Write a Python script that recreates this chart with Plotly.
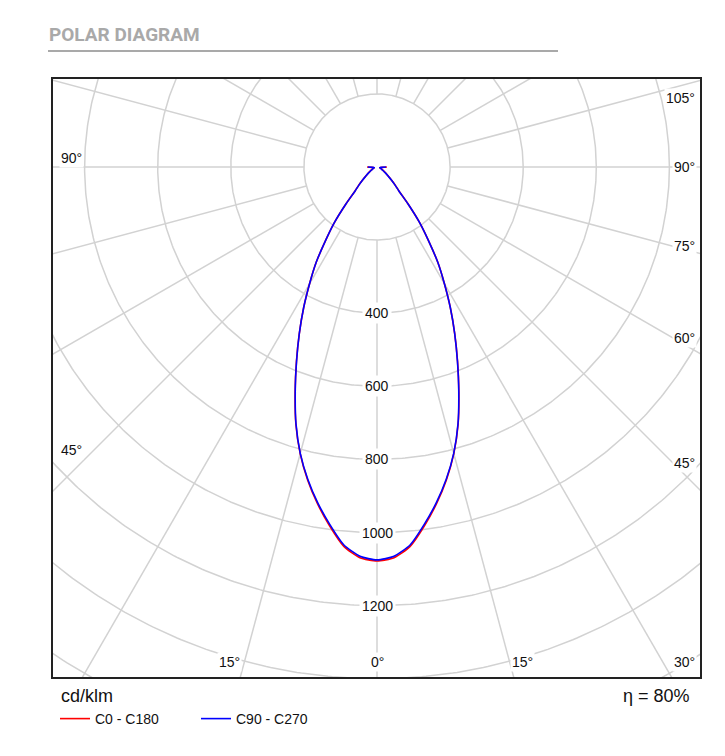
import numpy as np
import plotly.graph_objects as go

# luminous intensity (cd/klm) against gamma angle
gamma = [0, 2.5, 5, 7.5, 10, 12.5, 15, 17.5, 20, 22.5, 25, 27.5, 30, 32.5, 35, 37.5,
         40, 42.5, 45, 47.5, 50, 55, 60, 65, 70, 75, 80, 85, 90]
c0_c180 = [1078, 1070, 1042, 991, 936, 877, 812, 738, 655, 576, 503, 435, 369, 310, 245, 191,
           133, 89, 71, 55, 43, 29, 20, 14, 10, 8, 9, 13, 27]
c90_c270 = [1075, 1066, 1038, 987, 933, 875, 811, 737, 654, 575, 503, 435, 369, 310, 245, 191,
            133, 88, 70, 54, 42, 28, 19, 13, 10, 8, 8, 12, 25]

rings = [200, 400, 600, 800, 1000, 1200, 1400, 1600, 1800]
ring_labels = [400, 600, 800, 1000, 1200]
spoke_step = 15

right_labels = ["105°", "90°", "75°", "60°", "45°"]
left_labels = ["90°", "45°"]
bottom_labels = ["15°", "0°", "15°", "30°"]
efficiency = "η = 80%"
unit = "cd/klm"

# page geometry in screenshot pixels; the html body adds an 8px margin
OFF = 8
W, H = 725 - 2 * OFF, 756 - 2 * OFF
L, R, T, B = 52, 701, 78, 678
CX, CY = 377, 167
SCALE = 0.3655  # px per cd/klm

x_range = [(L - CX) / SCALE, (R - CX) / SCALE]
y_range = [(CY - B) / SCALE, (CY - T) / SCALE]


def px(x):
    return (x - L) / (R - L)


def py(y):
    return 1 - (y - T) / (B - T)


def to_xy(g, values):
    g = np.radians(np.array(g, dtype=float))
    v = np.array(values, dtype=float)
    # left half (C180 / C270) then right half (C0 / C90)
    x = np.concatenate([-v[::-1] * np.sin(g[::-1]), v[1:] * np.sin(g[1:])])
    y = np.concatenate([-v[::-1] * np.cos(g[::-1]), -v[1:] * np.cos(g[1:])])
    return x, y


fig = go.Figure()

grid_col = "#d2d2d2"
t = np.linspace(0, 2 * np.pi, 721)
for r in rings:
    fig.add_trace(go.Scatter(x=r * np.cos(t), y=r * np.sin(t), mode="lines",
                             line=dict(color=grid_col, width=1.5),
                             hoverinfo="skip", showlegend=False))

sx, sy = [], []
for a in range(0, 360, spoke_step):
    ar = np.radians(a)
    sx += [rings[0] * np.sin(ar), 2000 * np.sin(ar), None]
    sy += [-rings[0] * np.cos(ar), -2000 * np.cos(ar), None]
fig.add_trace(go.Scatter(x=sx, y=sy, mode="lines",
                         line=dict(color=grid_col, width=1.5),
                         hoverinfo="skip", showlegend=False))

x0, y0 = to_xy(gamma, c0_c180)
fig.add_trace(go.Scatter(x=x0, y=y0, mode="lines", name="C0 - C180",
                         line=dict(color="#ff0000", width=1.6, shape="spline", smoothing=0.6)))
x1, y1 = to_xy(gamma, c90_c270)
fig.add_trace(go.Scatter(x=x1, y=y1, mode="lines", name="C90 - C270",
                         line=dict(color="#0000ff", width=1.6, shape="spline", smoothing=0.6)))

font = "Liberation Sans, Arial, sans-serif"
ann = []
for v in ring_labels:
    ann.append(dict(x=0, y=-v, xref="x", yref="y", text=str(v), showarrow=False,
                    font=dict(size=14, color="#111", family=font),
                    bgcolor="white", borderpad=2))


def label(txt, x, y, anchor, size=14, **kw):
    return dict(x=px(x), y=py(y), xref="paper", yref="paper", text=txt,
                xanchor=anchor, yanchor="middle", showarrow=False,
                font=dict(size=size, color=kw.pop("color", "#111"), family=kw.pop("family", font)),
                **kw)


for txt, yy in zip(right_labels, [98, 167, 246, 338, 463]):
    ann.append(label(txt, 697, yy, "right", bgcolor="white", borderpad=1))
for txt, yy in zip(left_labels, [158, 450]):
    ann.append(label(txt, 59, yy, "left", bgcolor="white", borderpad=1))
for txt, xx, anc in zip(bottom_labels, [229, 377, 522, 697], ["center", "center", "center", "right"]):
    ann.append(label(txt, xx, 662, anc, bgcolor="white", borderpad=1))

ann.append(label("<b>POLAR DIAGRAM</b>", 47, 35, "left", size=19,
                 color="#a9a9a9", family="Roboto, sans-serif"))
ann.append(label(unit, 59, 696, "left", size=18))
ann.append(label(efficiency, 692, 696, "right", size=18))

fig.update_layout(
    width=W, height=H,
    margin=dict(l=L - OFF, r=W - (R - OFF), t=T - OFF, b=H - (B - OFF)),
    paper_bgcolor="white", plot_bgcolor="white",
    xaxis=dict(range=x_range, showgrid=False, zeroline=False, showticklabels=False,
               ticks="", fixedrange=True),
    yaxis=dict(range=y_range, showgrid=False, zeroline=False, showticklabels=False,
               ticks="", fixedrange=True),
    annotations=ann,
    shapes=[
        dict(type="rect", xref="paper", yref="paper", x0=0, x1=1, y0=0, y1=1,
             line=dict(color="#222", width=2)),
        dict(type="line", xref="paper", yref="paper", x0=px(48), x1=px(558),
             y0=py(51), y1=py(51), line=dict(color="#8c8c8c", width=1.5)),
    ],
    showlegend=True,
    legend=dict(orientation="h", x=px(55), y=py(703), xanchor="left", yanchor="top",
                font=dict(size=14, color="#111", family=font),
                bgcolor="rgba(0,0,0,0)", entrywidth=96, tracegroupgap=0),
)

fig.write_html("out.html")
